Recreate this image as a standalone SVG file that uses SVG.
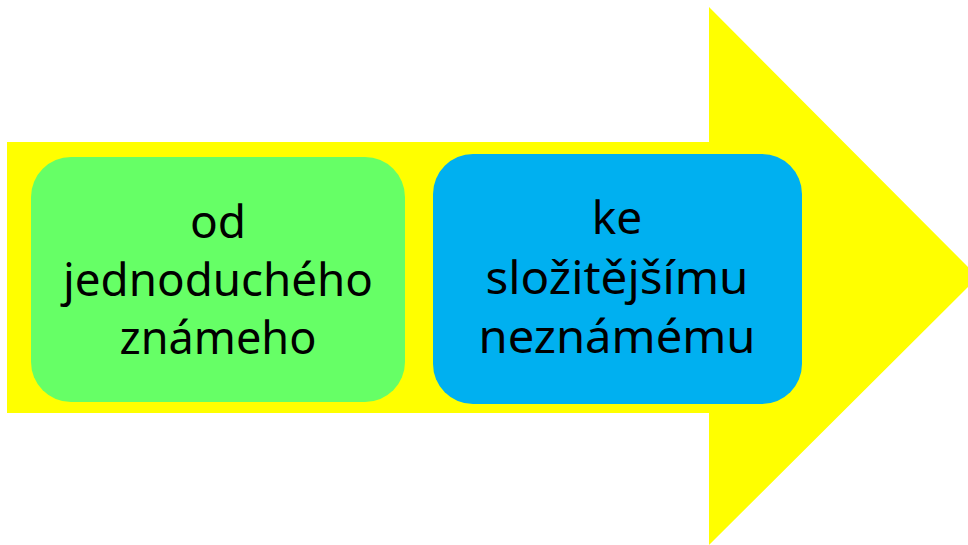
<svg xmlns="http://www.w3.org/2000/svg" width="968" height="545" viewBox="0 0 968 545">
<style>
.t{font-family:"Noto Sans","Open Sans","Liberation Sans",sans-serif;font-size:46px;fill:#000;text-anchor:middle}
</style>
<rect width="968" height="545" fill="#fff"/>
<g id="arrow">
<polygon points="7,142 709,142 709,7 978,277 709,545 709,413 7,413" fill="#ffff00"/>
</g>
<g id="node-green">
<rect x="31" y="157" width="374" height="245" rx="40" fill="#66ff66"/>
<text class="t" x="218" y="238">od</text>
<text class="t" x="218" y="296" textLength="310" lengthAdjust="spacingAndGlyphs">jednoduchého</text>
<text class="t" x="218" y="354" textLength="197" lengthAdjust="spacingAndGlyphs">známeho</text>
</g>
<g id="node-blue">
<rect x="433" y="154" width="369" height="250" rx="40" fill="#00b0f0"/>
<text class="t" x="617" y="234">ke</text>
<text class="t" x="617" y="294" textLength="263" lengthAdjust="spacingAndGlyphs">složitějšímu</text>
<text class="t" x="617" y="353" textLength="277" lengthAdjust="spacingAndGlyphs">neznámému</text>
</g>
<g id="connectors"></g>
</svg>
